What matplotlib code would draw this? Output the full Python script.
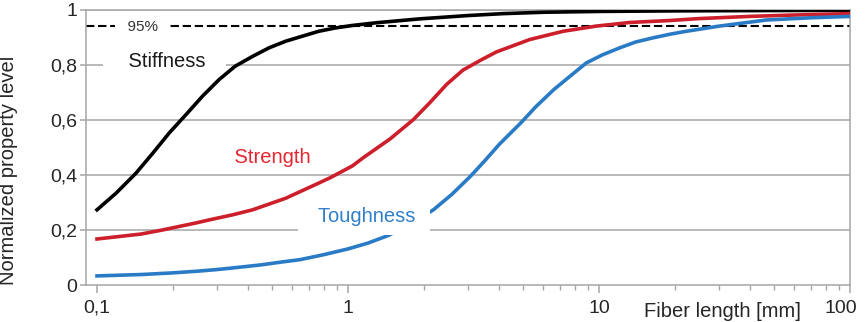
import numpy as np
import matplotlib.pyplot as plt
from matplotlib import rcParams
from matplotlib.transforms import ScaledTranslation

rcParams['font.family'] = ['Liberation Sans', 'DejaVu Sans']

# property curves vs. fiber length (mm), normalized to 1
stiff_x = [0.1, 0.119, 0.143, 0.167, 0.194, 0.226, 0.263, 0.306, 0.355, 0.417, 0.485,
           0.565, 0.657, 0.765, 0.89, 1.04, 1.3, 1.93, 3, 4.15, 6, 10, 20, 40, 100]
stiff_y = [0.273, 0.333, 0.406, 0.479, 0.552, 0.618, 0.685, 0.745, 0.794, 0.83, 0.861,
           0.885, 0.903, 0.921, 0.933, 0.942, 0.952, 0.966, 0.978, 0.985, 0.99, 0.993,
           0.995, 0.996, 0.997]

strength_x = [0.1, 0.15, 0.183, 0.25, 0.279, 0.348, 0.417, 0.565, 0.765, 0.852, 1.04, 1.15,
              1.47, 1.82, 2.11, 2.47, 2.87, 3.36, 3.9, 5.3, 7.2, 9.8, 13.3, 19.1, 25, 40,
              60, 100]
strength_y = [0.167, 0.185, 0.2, 0.226, 0.236, 0.255, 0.273, 0.315, 0.37, 0.39, 0.432,
              0.462, 0.53, 0.6, 0.66, 0.728, 0.78, 0.815, 0.846, 0.891, 0.921, 0.94,
              0.953, 0.96, 0.967, 0.975, 0.98, 0.985]

tough_x = [0.1, 0.15, 0.2, 0.25, 0.3, 0.348, 0.45, 0.55, 0.644, 0.8, 1.0, 1.2, 1.45, 1.8,
           2.19, 2.6, 3.07, 3.5, 4.0, 4.9, 5.6, 6.6, 7.6, 8.9, 10.3, 12.1, 14, 16.4, 19.1,
           22.3, 30.3, 46.5, 70, 100]
tough_y = [0.033, 0.038, 0.044, 0.05, 0.056, 0.062, 0.073, 0.084, 0.092, 0.11, 0.131,
           0.152, 0.18, 0.225, 0.273, 0.33, 0.394, 0.45, 0.51, 0.59, 0.647, 0.709, 0.755,
           0.806, 0.835, 0.861, 0.882, 0.897, 0.91, 0.921, 0.94, 0.962, 0.97, 0.975]

level_95 = 0.94

xticks = [0.1, 1, 10, 100]
xtick_labels = ['0,1', '1', '10', '100']
yticks = [0, 0.2, 0.4, 0.6, 0.8, 1.0]
ytick_labels = ['0', '0,2', '0,4', '0,6', '0,8', '1']

grey = '#a6a6a6'
red = '#cc1f2b'
blue = '#2a7bc6'

fig = plt.figure(figsize=(8.66, 3.22), dpi=100)
ax = fig.add_axes([86 / 866, 37 / 322, 764 / 866, 275.5 / 322])

ax.set_xscale('log')
ax.set_xlim(0.0904, 100)
ax.set_ylim(0, 1)

for y in yticks[1:]:
    ax.axhline(y, color=grey, lw=1.1, zorder=1)

ax.axhline(level_95, color='black', lw=1.5, dashes=(4, 1.8), zorder=2)

ax.plot(stiff_x, stiff_y, color='black', lw=2.6, zorder=3, solid_joinstyle='round')
ax.plot(strength_x, strength_y, color=red, lw=2.6, zorder=3, solid_joinstyle='round')
ax.plot(tough_x, tough_y, color=blue, lw=2.6, zorder=3, solid_joinstyle='round')

# curve labels sit on white boxes that break the grid lines
def white(pad):
    return dict(boxstyle=f'square,pad={pad}', fc='white', ec='none')

ax.text(0.152, 0.935, '  95%  ', fontsize=11, color='#333333', ha='center', va='center',
        bbox=white(0.25), zorder=2.5)
ax.text(0.186, 0.81, '    Stiffness   ', fontsize=14.5, color='#1a1a1a', ha='center',
        va='center', bbox=white(0.15), zorder=2.5)
ax.text(0.50, 0.462, '    Strength    ', fontsize=14.5, color='#e3262f', ha='center',
        va='center', bbox=white(0.15), zorder=2.5)
# this one is drawn over the blue curve
ax.text(1.156, 0.25, '  Toughness ', fontsize=14.5, color='#2f7fcb', ha='center',
        va='center', bbox=white(0.45), zorder=4)

ax.set_xticks(xticks)
ax.set_xticklabels(xtick_labels)
minor = [m * d for d in (0.1, 1, 10) for m in range(2, 10)]
ax.set_xticks(minor, minor=True)
ax.set_xticklabels([], minor=True)
ax.set_yticks(yticks)
ax.set_yticklabels(ytick_labels)

ax.tick_params(axis='both', which='major', labelsize=14, labelcolor='#262626', color=grey,
               width=1.1)
ax.tick_params(axis='x', which='major', length=5.5, pad=5)
ax.tick_params(axis='x', which='minor', length=3.5, color=grey, width=1.0)
ax.tick_params(axis='y', which='major', length=4.5, pad=2)

# keep the last x label inside the figure
last = ax.get_xticklabels()[-1]
last.set_transform(last.get_transform() + ScaledTranslation(-9 / 100, 0, fig.dpi_scale_trans))

for s in ax.spines.values():
    s.set_color(grey)
    s.set_linewidth(1.1)

ax.set_ylabel('Normalized property level', fontsize=14.5, color='#262626')
ax.yaxis.set_label_coords(-0.089, 0.415)
ax.text(0.833, -0.06, 'Fiber length [mm]', transform=ax.transAxes, fontsize=14.5,
        color='#262626', ha='center', va='top')

fig.savefig('out.png', dpi=100)
